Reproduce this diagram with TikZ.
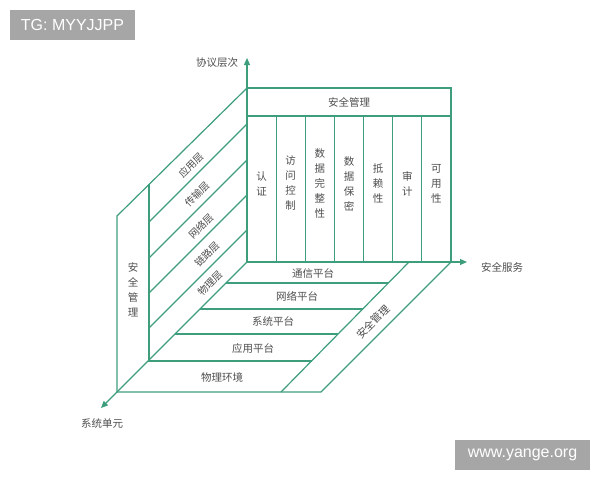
\documentclass[tikz,border=0pt]{standalone}
\usepackage{fontspec}
\usetikzlibrary{arrows.meta, positioning}
\newfontfamily\cjk{Noto Sans CJK SC}
\newfontfamily\wmfont{Liberation Sans}
\definecolor{linegreen}{RGB}{62,158,124}
\definecolor{textgray}{RGB}{78,78,78}
\definecolor{wmgray}{RGB}{166,166,166}

\begin{document}
\begin{tikzpicture}[x=1pt,y=1pt]
\tikzstyle{every node}+=[inner sep=0pt, text=textgray, font=\cjk\fontsize{10.5}{15}\selectfont, align=center]
\tikzstyle{frame}=[linegreen, line width=1.2pt]
\tikzstyle{axis}=[linegreen, line width=1.2pt, -{Triangle[length=7pt,width=6pt]}]
\tikzstyle{watermark}=[fill=wmgray, text=white, font=\wmfont\fontsize{16}{18}\selectfont, minimum height=30pt]
\tikzstyle{layer}=[rotate=45, font=\cjk\fontsize{10}{12}\selectfont]
\useasboundingbox (0,0) rectangle (600,-480);
\coordinate (O) at (247,-262);
\coordinate (zEnd) at (247,-58);
\coordinate (xEnd) at (467,-262);
\coordinate (yEnd) at (101,-408);
\coordinate (bwTL) at (247,-88);
\coordinate (bwTR) at (451,-88);
\coordinate (bwBR) at (451,-262);
\coordinate (lwTop) at (117,-216);
\coordinate (lwBot) at (117,-392);
\coordinate (lwInTop) at (149,-184);
\coordinate (lwInBot) at (149,-360);
\coordinate (flFR) at (321,-392);
\coordinate (flInF) at (281,-392);
\coordinate (flInB) at (409,-262);
\draw [axis] (O) -- (zEnd);
\draw [axis] (O) -- (xEnd);
\draw [axis] (O) -- (yEnd);
\draw [frame] (bwTL) -- (bwTR) -- (bwBR);
\draw [frame] (247,-116) -- (451,-116);
\draw [frame] (276.14,-116) -- (276.14,-262);
\draw [frame] (305.29,-116) -- (305.29,-262);
\draw [frame] (334.43,-116) -- (334.43,-262);
\draw [frame] (363.57,-116) -- (363.57,-262);
\draw [frame] (392.71,-116) -- (392.71,-262);
\draw [frame] (421.86,-116) -- (421.86,-262);
\draw [frame] (lwBot) -- (lwTop) -- (bwTL);
\draw [frame] (lwInTop) -- (lwInBot);
\draw [frame] (149,-222) -- (247,-124);
\draw [frame] (149,-258) -- (247,-160);
\draw [frame] (149,-293) -- (247,-195);
\draw [frame] (149,-328) -- (247,-230);
\draw [frame] (lwBot) -- (flFR) -- (bwBR);
\draw [frame] (flInF) -- (flInB);
\draw [frame] (226,-283) -- (388.3,-283);
\draw [frame] (200,-309) -- (362.7,-309);
\draw [frame] (175,-334) -- (338.1,-334);
\draw [frame] (148,-361) -- (311.5,-361);
\node (zLabel) at (217,-63) {协议层次};
\node (xLabel) at (502,-267) {安全服务};
\node (yLabel) at (102,-423) {系统单元};
\node (mgmtTop) at (349,-102) {安全管理};
\node (svcAuth) at (261.6,-183.5) {认\\证};
\node (svcAccess) at (290.7,-183.5) {访\\问\\控\\制};
\node (svcIntegrity) at (319.9,-183.5) {数\\据\\完\\整\\性};
\node (svcSecret) at (349,-183.5) {数\\据\\保\\密};
\node (svcDeny) at (378.1,-183.5) {抵\\赖\\性};
\node (svcAudit) at (407.3,-183.5) {审\\计};
\node (svcAvail) at (436.4,-183.5) {可\\用\\性};
\node (mgmtLeft) at (133,-289.5) {安\\全\\管\\理};
\node [layer] (layApp) at (191,-165) {应用层};
\node [layer] (layTrans) at (197,-194) {传输层};
\node [layer] (layNet) at (201,-226) {网络层};
\node [layer] (layLink) at (207,-254) {链路层};
\node [layer] (layPhys) at (210,-283) {物理层};
\node (platComm) at (313,-273) {通信平台};
\node (platNet) at (297,-296) {网络平台};
\node (platSys) at (273,-321) {系统平台};
\node (platApp) at (253,-348) {应用平台};
\node (platEnv) at (222,-377) {物理环境};
\node [rotate=45] (mgmtFloor) at (373,-322) {安全管理};
\node [watermark, minimum width=125pt] (wmTop) at (72.5,-25) {TG: MYYJJPP};
\node [watermark, minimum width=135pt] (wmBot) at (522.5,-455) {www.yange.org};
\end{tikzpicture}
\end{document}
